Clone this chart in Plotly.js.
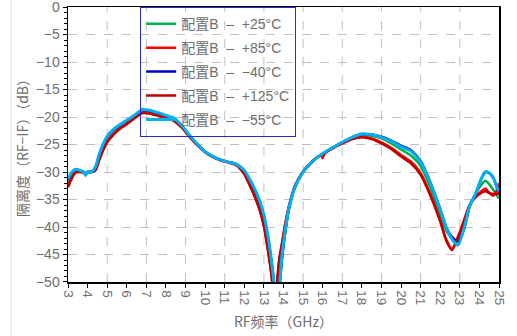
<!DOCTYPE html>
<html><head><meta charset="utf-8">
<script src="https://cdn.plot.ly/plotly-3.0.1.min.js"></script>
<style>html,body{margin:0;padding:0;background:#fff;}#chart{width:517px;height:336px;}</style>
</head><body><div id="chart"></div>
<script>
const freq = [3.0,3.2,3.4,3.6,3.8,3.9,4.0,4.2,4.4,4.6,4.8,5.0,5.3,5.6,6.0,6.3,6.6,6.8,7.0,7.3,7.6,8.0,8.4,8.8,9.2,9.6,10.0,10.4,10.8,11.2,11.6,12.0,12.3,12.6,12.8,13.0,13.2,13.4,13.5,13.6,13.7,13.8,13.9,14.1,14.3,14.6,15.0,15.5,15.9,16.0,16.1,16.5,17.0,17.5,18.0,18.5,19.0,19.5,20.0,20.5,21.0,21.5,22.0,22.3,22.6,22.9,23.2,23.5,23.8,24.1,24.3,24.5,24.7,24.9,25.0];

const p25 = [-31.8,-30.4,-29.7,-29.8,-30.0,-30.5,-30.0,-30.0,-29.3,-27.0,-25.2,-23.8,-22.6,-21.8,-20.8,-20.1,-19.3,-18.9,-18.9,-19.1,-19.4,-19.9,-20.4,-21.7,-23.4,-25.0,-26.3,-27.2,-27.8,-28.2,-28.6,-29.9,-31.7,-33.9,-35.6,-38.0,-41.8,-46.8,-49.8,-53.5,-55.0,-50.5,-46.5,-40.6,-36.4,-32.7,-30.0,-28.0,-26.9,-26.7,-26.5,-25.6,-24.6,-23.8,-23.3,-23.4,-23.9,-24.8,-25.9,-27.0,-28.9,-32.8,-37.6,-40.6,-42.0,-42.6,-40.5,-36.3,-34.0,-32.3,-31.6,-32.2,-33.2,-34.3,-34.8];

const p85 = [-32.6,-30.9,-30.0,-29.9,-30.1,-30.2,-30.0,-30.0,-29.6,-27.6,-25.9,-24.5,-23.2,-22.2,-21.2,-20.4,-19.6,-19.2,-19.2,-19.4,-19.7,-20.1,-20.6,-21.8,-23.5,-25.0,-26.3,-27.2,-27.8,-28.2,-28.7,-30.3,-32.5,-35.0,-37.0,-39.8,-44.0,-49.0,-53.0,-54.0,-49.0,-45.5,-43.5,-39.2,-35.9,-32.4,-29.9,-28.0,-26.9,-27.5,-26.6,-25.7,-24.8,-24.0,-23.6,-23.9,-24.6,-25.6,-26.9,-28.1,-30.2,-34.0,-38.8,-42.2,-44.0,-41.8,-39.0,-36.0,-34.5,-33.5,-33.0,-33.8,-34.3,-33.2,-32.0];

const m40 = [-31.4,-30.1,-29.5,-29.7,-30.0,-30.6,-30.0,-30.0,-29.2,-26.8,-25.0,-23.6,-22.4,-21.6,-20.7,-20.0,-19.2,-18.7,-18.8,-19.0,-19.3,-19.8,-20.3,-21.6,-23.4,-25.0,-26.3,-27.2,-27.8,-28.2,-28.6,-29.8,-31.6,-33.8,-35.6,-38.0,-41.8,-46.8,-49.8,-53.5,-55.0,-50.5,-46.5,-40.6,-36.3,-32.6,-30.0,-28.0,-26.9,-26.7,-26.5,-25.6,-24.6,-23.7,-23.1,-23.2,-23.6,-24.3,-25.2,-26.0,-28.0,-31.9,-36.8,-40.0,-41.8,-42.6,-40.5,-36.2,-34.0,-31.2,-30.0,-30.2,-31.0,-32.9,-33.8];

const p125 = [-32.8,-31.1,-30.1,-30.0,-30.1,-30.2,-30.0,-30.0,-29.7,-27.8,-26.0,-24.6,-23.3,-22.3,-21.3,-20.5,-19.7,-19.3,-19.3,-19.5,-19.8,-20.2,-20.7,-21.9,-23.6,-25.1,-26.4,-27.3,-27.9,-28.3,-28.8,-30.4,-32.6,-35.1,-37.1,-39.9,-44.1,-49.2,-53.0,-54.0,-49.0,-45.5,-43.5,-39.3,-35.9,-32.4,-29.9,-28.0,-26.9,-26.9,-26.6,-25.7,-24.8,-24.0,-23.7,-24.0,-24.8,-25.8,-27.2,-28.4,-30.5,-34.3,-39.0,-42.4,-44.2,-42.0,-39.0,-36.0,-34.6,-33.8,-33.5,-33.8,-34.0,-34.0,-33.9];

const m55 = [-31.3,-30.0,-29.5,-29.7,-30.0,-30.6,-30.0,-30.0,-29.1,-26.7,-24.9,-23.5,-22.3,-21.5,-20.6,-19.9,-19.1,-18.6,-18.7,-18.9,-19.2,-19.7,-20.2,-21.5,-23.3,-24.9,-26.3,-27.2,-27.8,-28.2,-28.6,-29.7,-31.5,-33.6,-35.4,-37.8,-41.5,-46.5,-49.5,-53.0,-55.0,-51.0,-46.0,-40.3,-36.2,-32.6,-30.0,-28.0,-26.9,-26.6,-26.4,-25.6,-24.6,-23.7,-23.1,-23.2,-23.7,-24.4,-25.4,-26.2,-28.1,-32.0,-36.8,-40.0,-42.2,-43.3,-40.5,-36.2,-34.0,-31.2,-30.0,-30.2,-31.0,-32.8,-33.5];

const seriesNames = ['配置B  –  +25°C','配置B  –  +85°C','配置B  –  −40°C','配置B  –  +125°C','配置B  –  −55°C'];
const seriesData = [p25, p85, m40, p125, m55];
const seriesColors = ['#00b050','#ff0000','#0000cc','#c00000','#00b0f0'];
const seriesWidths = [2.5, 2.5, 2.5, 2.5, 3];

const traces = seriesData.map((ys, i) => ({
  x: freq, y: ys, type: 'scatter', mode: 'lines', name: seriesNames[i],
  legendgroup: 'g' + i,
  line: {color: seriesColors[i], width: seriesWidths[i], shape: 'spline', smoothing: 0.6},
  cliponaxis: true
}));

const xTicks = [3,4,5,6,7,8,9,10,11,12,13,14,15,16,17,18,19,20,21,22,23,24,25];
const yTicks = [0,-5,-10,-15,-20,-25,-30,-35,-40,-45,-50];
const yTickText = ['0','−5','−10','−15','−20','−25','−30','−35','−40','−45','−50'];
const gray = '#6e6e6e';
const layout = {
  width: 517, height: 336,
  margin: {l: 68, r: 18, t: 7, b: 54},
  paper_bgcolor: '#ffffff', plot_bgcolor: '#ffffff',
  font: {family: 'Noto Sans CJK SC, Noto Sans, sans-serif', color: gray},
  showlegend: true,
  legend: {x: 0.167, y: 1.0, xanchor: 'left', yanchor: 'top',
    bgcolor: 'rgba(0,0,0,0)', bordercolor: '#2a2ad0', borderwidth: 1.2,
    font: {size: 14, color: gray, family: 'Liberation Sans, Noto Sans CJK SC, sans-serif'},
    tracegroupgap: 2.7, itemwidth: 30},
  xaxis: {range: [3, 25], tickvals: xTicks, ticktext: xTicks.map(String), tickangle: 90,
    showgrid: false, zeroline: false, showline: true, linecolor: '#000', linewidth: 1.5, mirror: true,
    ticks: 'outside', ticklen: 4, tickcolor: '#000',
    tickfont: {size: 13.5, color: gray, family: 'Liberation Sans, sans-serif'},
    title: {text: 'RF频率（GHz）', font: {size: 14, color: gray}, standoff: 12}},
  yaxis: {range: [-50.001, 0.001], tickvals: yTicks, ticktext: yTickText,
    showgrid: true, gridcolor: '#c0c0c0', griddash: 'dash', gridwidth: 1,
    zeroline: false, showline: true, linecolor: '#000', linewidth: 1.5, mirror: true,
    ticks: 'outside', ticklen: 4, tickcolor: '#000',
    minor: {dtick: 1, ticks: 'outside', ticklen: 2.5, tickcolor: '#000', showgrid: false},
    tickfont: {size: 14, color: gray, family: 'Liberation Sans, sans-serif'},
    ticklabeloverflow: 'allow',
    title: {text: '隔离度（RF−IF）（dB）', font: {size: 14, color: gray}, standoff: 4}},
  shapes: [].concat(
    [5,7,9,11,13,15,17,19,21,23].map(v => ({type: 'line', xref: 'x', yref: 'paper', x0: v, x1: v, y0: 0, y1: 1,
      line: {color: '#c0c0c0', width: 1, dash: 'dash'}, layer: 'below'})),
    [{type: 'line', xref: 'paper', yref: 'paper', x0: -0.132, x1: -0.132, y0: -0.2, y1: 1.03,
      line: {color: '#e0e0e0', width: 1}}]
  )
};
Plotly.newPlot('chart', traces, layout, {displayModeBar: false, staticPlot: true});
</script></body></html>
